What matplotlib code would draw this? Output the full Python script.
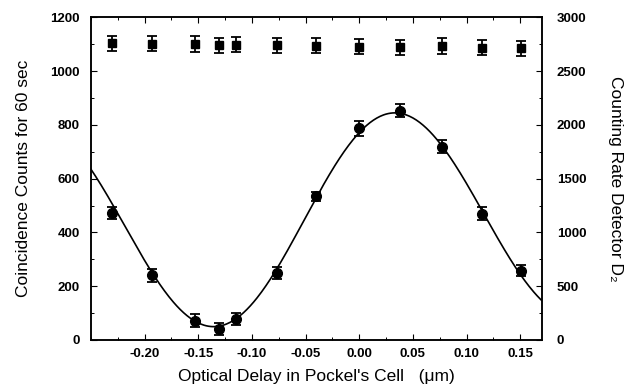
import numpy as np
import matplotlib
matplotlib.use("Agg")
import matplotlib.pyplot as plt
from matplotlib.ticker import MultipleLocator, FixedLocator

plt.rcParams['font.family'] = ['Liberation Sans', 'DejaVu Sans']

## data
delay = [-0.230, -0.193, -0.153, -0.131, -0.115, -0.077, -0.040, 0.000, 0.038, 0.077, 0.114, 0.151]
coinc = [472, 240, 72, 40, 78, 248, 535, 787, 853, 719, 470, 258]
coinc_err = [22, 23, 25, 22, 22, 22, 17, 28, 24, 23, 25, 20]
rate = [2758, 2755, 2752, 2742, 2745, 2742, 2736, 2727, 2721, 2733, 2718, 2711]
rate_err = [70, 70, 70, 70, 70, 70, 70, 70, 70, 70, 70, 70]
x_ticks = [-0.20, -0.15, -0.10, -0.05, 0.00, 0.05, 0.10, 0.15]

## fitted curve parameters
fit_offset = 447
fit_amp = 402
fit_period = 0.341
fit_xmax = 0.034
env_center = -0.05
env_width = 0.8

x_fit = np.linspace(-0.25, 0.17, 400)
y_fit = fit_offset + fit_amp * np.exp(-((x_fit - env_center) / env_width) ** 2) * \
    np.cos(2 * np.pi * (x_fit - fit_xmax) / fit_period)

fig = plt.figure(figsize=(6.3, 3.89), dpi=100)
ax = fig.add_axes([0.1444, 0.126, 0.7154, 0.8295])
ax2 = ax.twinx()

ax.plot(x_fit, y_fit, color='black', lw=1.2)
ax.errorbar(delay, coinc, yerr=coinc_err, fmt='o', color='black', ms=7,
            capsize=3.5, elinewidth=1.3, capthick=1.3)
ax2.errorbar(delay, rate, yerr=rate_err, fmt='s', color='black', ms=5.5,
             capsize=3.3, elinewidth=1.3, capthick=1.3)

ax.set_xlim(-0.25, 0.17)
ax.set_ylim(0, 1200)
ax2.set_ylim(0, 3000)

ax.xaxis.set_major_locator(FixedLocator(x_ticks))
ax.xaxis.set_minor_locator(MultipleLocator(0.025))
ax.yaxis.set_major_locator(MultipleLocator(200))
ax.yaxis.set_minor_locator(MultipleLocator(100))
ax2.yaxis.set_major_locator(MultipleLocator(500))
ax2.yaxis.set_minor_locator(MultipleLocator(250))

ax.xaxis.set_major_formatter(plt.FuncFormatter(lambda v, p: f"{v:.2f}".replace("-0.00", "0.00")))

for a in (ax, ax2):
    for s in a.spines.values():
        s.set_linewidth(1.1)

ax.tick_params(axis='x', which='both', direction='in', top=True, labelsize=9.5, pad=6)
ax.tick_params(axis='y', which='both', direction='in', right=False, labelsize=9.5, pad=8)
ax2.tick_params(axis='y', which='both', direction='in', labelsize=9.5, pad=11)
ax.tick_params(which='major', length=4, width=0.8)
ax.tick_params(which='minor', length=2.5, width=0.7)
ax2.tick_params(which='major', length=4, width=0.8)
ax2.tick_params(which='minor', length=2.5, width=0.7)

for lab in ax.get_xticklabels() + ax.get_yticklabels() + ax2.get_yticklabels():
    lab.set_fontweight('bold')

ax.set_xlabel("Optical Delay in Pockel's Cell   (\u03bcm)", fontsize=12.5, labelpad=6)
ax.set_ylabel("Coincidence Counts for 60 sec", fontsize=12.5, labelpad=14)
ax2.set_ylabel("Counting Rate Detector D\u2082", fontsize=12.5, rotation=270, labelpad=26)

fig.savefig("out.png", dpi=100)
